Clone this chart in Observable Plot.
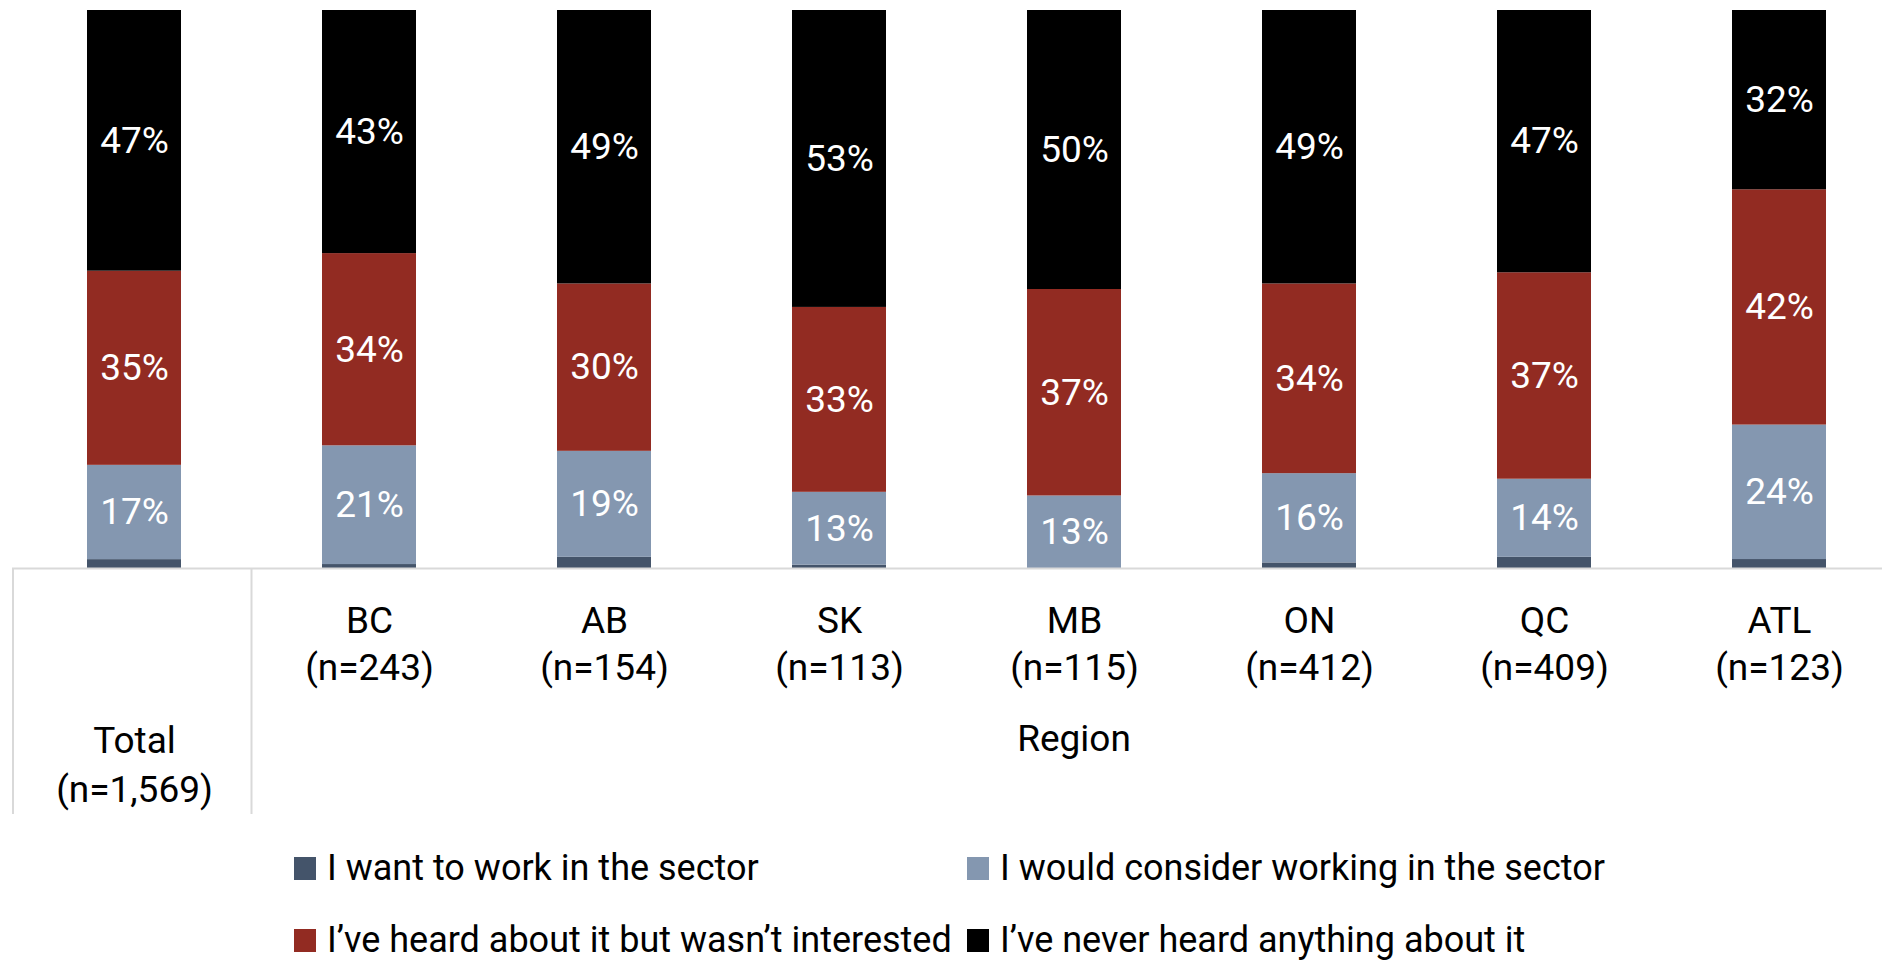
<!DOCTYPE html>
<html>
<head>
<meta charset="utf-8">
<script src="https://cdn.jsdelivr.net/npm/d3@7"></script>
<script src="https://cdn.jsdelivr.net/npm/@observablehq/plot@0.6"></script>
<style>
  html, body { margin: 0; padding: 0; background: #fff; }
  body { width: 1882px; height: 962px; overflow: hidden; font-family: Roboto, "Open Sans", sans-serif; }
  #chart svg { display: block; }
  #legend { display: grid; grid-template-columns: 673px auto; grid-auto-rows: 72px; padding-left: 294px; margin-top: 2px; font-size: 36px; color: #000; }
  .item { display: flex; align-items: center; white-space: nowrap; }
  .sw { width: 22px; height: 23px; margin-right: 11px; flex: none; }
</style>
</head>
<body>
<div id="chart"></div>
<div id="legend"></div>
<script>
const categories = ["Total", "BC", "AB", "SK", "MB", "ON", "QC", "ATL"];
const sampleSizes = ["1,569", "243", "154", "113", "115", "412", "409", "123"];
const groupLabel = "Region";
const series = [
  "I want to work in the sector",
  "I would consider working in the sector",
  "I’ve heard about it but wasn’t interested",
  "I’ve never heard anything about it"
];
const wantToWork = [1.6, 0.7, 2, 0.6, 0, 1, 2, 1.6];
const wouldConsider = [17, 21, 19, 13, 13, 16, 14, 24];
const heardNotInterested = [35, 34, 30, 33, 37, 34, 37, 42];
const neverHeard = [47, 43, 49, 53, 50, 49, 47, 32];
const seriesColors = ["#44546a", "#8497b0", "#922b22", "#000000"];
const labelledSeries = [false, true, true, true];

const seriesValues = [wantToWork, wouldConsider, heardNotInterested, neverHeard];
const data = [];
categories.forEach((cat, i) => {
  series.forEach((s, j) => {
    data.push({cat, series: s, value: seriesValues[j][i], labelled: labelledSeries[j]});
  });
});
const catLabels = categories.map((c, i) => ({cat: c, text: c + "\n(n=" + sampleSizes[i] + ")"}));

const font = "Roboto, \"Open Sans\", sans-serif";
const fs = 37;

const chart = Plot.plot({
  width: 1882,
  height: 830,
  marginTop: 10,
  marginBottom: 262,
  marginLeft: 12,
  marginRight: 0,
  style: {fontFamily: font, background: "#fff"},
  x: {domain: categories, paddingInner: 0.6, paddingOuter: 0.262, align: 0.57, axis: null},
  y: {domain: [0, 1], axis: null},
  color: {domain: series, range: seriesColors},
  marks: [
    Plot.barY(data, Plot.stackY({offset: "normalize"}, {x: "cat", y: "value", z: "series", fill: "series", order: null})),
    Plot.text(data, Plot.stackY({offset: "normalize"}, {
      x: "cat", y: "value", z: "series", order: null,
      text: d => d.labelled ? d.value + "%" : "",
      fill: "white", fontSize: fs
    })),
    Plot.ruleY([0], {stroke: "#d9d9d9", strokeWidth: 2}),
    Plot.text(catLabels.filter(d => d.cat !== "Total"), {
      x: "cat", text: "text", frameAnchor: "bottom", lineAnchor: "middle", dy: 73, lineHeight: 1.27, fontSize: fs, fill: "#000"
    }),
    Plot.text(catLabels.filter(d => d.cat === "Total"), {
      x: "cat", text: "text", frameAnchor: "bottom", lineAnchor: "middle", dy: 193, lineHeight: 1.32, fontSize: fs, fill: "#000"
    })
  ]
});

// Separator lines and group label placed from the x scale
const xs = chart.scale("x");
const ys = chart.scale("y");
const bw = xs.bandwidth;
const base = ys.apply(0);
const svg = d3.select(chart);
const firstRegion = categories[1];
const lastRegion = categories[categories.length - 1];
const divider = (xs.apply(categories[0]) + bw + xs.apply(firstRegion)) / 2;
const leftEdge = xs.range[0];
const g = svg.append("g").attr("stroke", "#d9d9d9").attr("stroke-width", 2);
[leftEdge + 1, divider].forEach(xp => {
  g.append("line").attr("x1", xp).attr("x2", xp).attr("y1", base).attr("y2", base + 246);
});
svg.append("text")
  .attr("x", (xs.apply(firstRegion) + xs.apply(lastRegion) + bw) / 2)
  .attr("y", base + 171)
  .attr("dy", "0.32em")
  .attr("text-anchor", "middle")
  .attr("font-size", fs)
  .attr("fill", "#000")
  .text(groupLabel);

document.getElementById("chart").appendChild(chart);

const legend = document.getElementById("legend");
series.forEach((s, j) => {
  const item = document.createElement("div");
  item.className = "item";
  const sw = document.createElement("span");
  sw.className = "sw";
  sw.style.background = seriesColors[j];
  item.appendChild(sw);
  item.appendChild(document.createTextNode(s));
  legend.appendChild(item);
});
</script>
</body>
</html>
